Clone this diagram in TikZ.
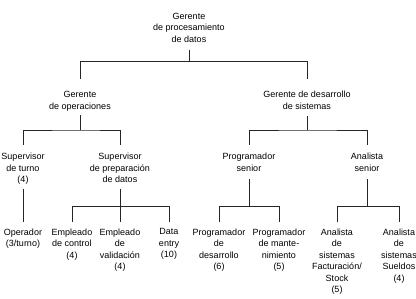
\documentclass[tikz,border=0pt]{standalone}
\usepackage{fontspec}
\setmainfont{Liberation Sans}
\begin{document}
\begin{tikzpicture}[
  x=1pt, y=1pt,
  font=\fontsize{9}{11.5}\selectfont,
  puesto/.style={align=center, anchor=north, inner sep=0pt,
    execute at begin node=\strut, execute at end node=\strut},
  linea/.style={line width=0.75pt, draw=black!85}
]
  \useasboundingbox (0,0) rectangle (416,-299);

  % --- nivel 1
  \node[puesto] (dp) at (189,-12.6) {Gerente\\de procesamiento\\de datos};

  % --- nivel 2
  \node[puesto] (op) at (80,-91.2) {Gerente\\de operaciones};
  \node[puesto] (ds) at (307,-91.2) {Gerente de desarrollo\\de sistemas};

  % --- nivel 3
  \node[puesto] (st) at (23,-153) {Supervisor\\de turno\\(4)};
  \node[puesto] (sp) at (120,-153) {Supervisor\\de preparaci\'on\\de datos};
  \node[puesto] (ps) at (249,-153) {Programador\\senior};
  \node[puesto] (as) at (367,-153) {Analista\\senior};

  % --- nivel 4
  \node[puesto] (opr) at (23,-228.6) {Operador\\(3/turno)};
  \node[puesto] (ec) at (72,-228.6) {Empleado\\de control\\(4)};
  \node[puesto] (ev) at (120,-228.6) {Empleado\\de\\validaci\'on\\(4)};
  \node[puesto] (de) at (169,-228.6) {Data\\entry\\(10)};
  \node[puesto] (pd) at (219,-228.6) {Programador\\de\\desarrollo\\(6)};
  \node[puesto] (pm) at (279,-228.6) {Programador\\de mante-\\nimiento\\(5)};
  \node[puesto] (af) at (337,-228.6) {Analista\\de\\sistemas\\Facturaci\'on/\\Stock\\(5)};
  \node[puesto] (asu) at (399,-228.6) {Analista\\de\\sistemas\\Sueldos\\(4)};

  % --- barras
  \coordinate (b1) at (189,-61.5);
  \coordinate (b2) at (80,-130);
  \coordinate (b3) at (307,-130);
  \coordinate (b4) at (120,-206.5);
  \coordinate (b5) at (249,-206.5);
  \coordinate (b6) at (367,-206.5);

  \draw[linea, shorten <=4pt] (dp.south) -- (b1);
  \draw[linea, shorten <=12pt, shorten >=12pt] (op.north) |- (b1) -| (ds.north);

  \draw[linea, shorten <=2.5pt] (op.south) -- (b2);
  \draw[linea, shorten <=8pt, shorten >=8pt] (st.north) |- (b2) -| (sp.north);
  \draw[linea, shorten <=2.5pt] (ds.south) -- (b3);
  \draw[linea, shorten <=8pt, shorten >=8pt] (ps.north) |- (b3) -| (as.north);

  \draw[linea, shorten <=2.5pt, shorten >=6.5pt] (st.south) -- (opr.north);
  \draw[linea, shorten <=2.5pt] (sp.south) -- (b4);
  \draw[linea, shorten <=6.5pt, shorten >=6.5pt] (ec.north) |- (b4) -| (de.north);
  \draw[linea, shorten >=6.5pt] (b4) -- (ev.north);
  \draw[linea, shorten <=4pt] (ps.south) -- (b5);
  \draw[linea, shorten <=6.5pt, shorten >=6.5pt] (pd.north) |- (b5) -| (pm.north);
  \draw[linea, shorten <=4pt] (as.south) -- (b6);
  \draw[linea, shorten <=6.5pt, shorten >=6.5pt] (af.north) |- (b6) -| (asu.north);
\end{tikzpicture}
\end{document}
